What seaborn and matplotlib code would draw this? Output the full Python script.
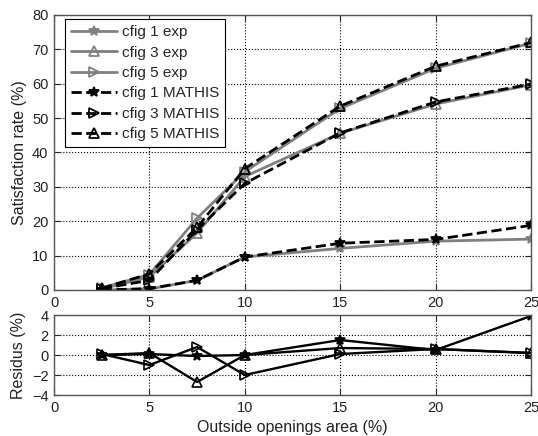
import matplotlib
matplotlib.use('Agg')
import matplotlib.pyplot as plt
import seaborn as sns

sns.set_style('ticks')
plt.rcParams['font.family'] = ['Liberation Sans', 'DejaVu Sans']

# opening area (%)
area = [2.5, 5, 7.5, 10, 15, 20, 25]

# satisfaction rate (%)
exp1 = [0.0, 0.3, 2.8, 9.6, 12.1, 14.2, 14.8]
exp3 = [0.3, 3.8, 16.6, 33.0, 45.6, 54.1, 59.7]
exp5 = [0.6, 4.5, 20.9, 34.4, 52.8, 64.5, 71.8]
mathis1 = [0.0, 0.4, 2.8, 9.6, 13.6, 14.7, 18.8]
mathis3 = [0.4, 2.8, 17.5, 31.0, 45.7, 54.7, 59.9]
mathis5 = [0.5, 4.7, 18.2, 35.3, 53.5, 65.1, 72.0]

# residus (%)
res1 = [0.0, 0.1, -0.1, 0.0, 1.5, 0.5, 3.9]
res3 = [0.1, -1.0, 0.8, -2.0, 0.1, 0.6, 0.2]
res5 = [0.0, 0.2, -2.7, 0.0, 0.7, 0.6, 0.2]

gray = '#808080'

fig = plt.figure(figsize=(5.38, 4.36), dpi=100)
ax1 = fig.add_axes([0.1004, 0.3349, 0.8866, 0.6307])
ax2 = fig.add_axes([0.1004, 0.094, 0.8866, 0.1835])

exp_series = [(exp1, '*', 'cfig 1 exp'), (exp3, '^', 'cfig 3 exp'), (exp5, '>', 'cfig 5 exp')]
mathis_series = [(mathis1, '*', 'cfig 1 MATHIS'), (mathis3, '>', 'cfig 3 MATHIS'), (mathis5, '^', 'cfig 5 MATHIS')]

for vals, mk, lab in exp_series:
    fill = 'full' if mk == '*' else 'none'
    sns.lineplot(x=area, y=vals, ax=ax1, color=gray, lw=2, marker=mk, markersize=7,
                 fillstyle=fill, markeredgecolor=gray, markeredgewidth=1.3, label=lab)

for vals, mk, lab in mathis_series:
    fill = 'full' if mk == '*' else 'none'
    sns.lineplot(x=area, y=vals, ax=ax1, color='black', lw=2, linestyle='--', marker=mk,
                 markersize=7, fillstyle=fill, markeredgecolor='black', markeredgewidth=1.3,
                 label=lab)

for vals, mk in [(res1, '*'), (res3, '>'), (res5, '^')]:
    fill = 'full' if mk == '*' else 'none'
    sns.lineplot(x=area, y=vals, ax=ax2, color='black', lw=1.7, marker=mk, markersize=7,
                 fillstyle=fill, markeredgecolor='black', markeredgewidth=1.2, legend=False)

for ax in (ax1, ax2):
    ax.set_xlim(0, 25)
    ax.set_xticks([0, 5, 10, 15, 20, 25])
    ax.grid(True, linestyle=':', color='black', lw=0.8)
    ax.tick_params(direction='in', top=True, right=True, labelsize=10.5, length=4, pad=4,
                   labelcolor='#222222')
    for s in ax.spines.values():
        s.set_color('#555555')
        s.set_linewidth(1)

ax1.set_ylim(0, 80)
ax1.set_yticks(range(0, 81, 10))
ax1.set_ylabel('Satisfaction rate (%)', fontsize=11.5, color='#222222')
ax2.set_ylim(-4, 4)
ax2.set_yticks([-4, -2, 0, 2, 4])
ax2.set_ylabel('Residus (%)', fontsize=11.5, color='#222222')
ax2.set_xlabel('Outside openings area (%)', fontsize=11.5, color='#222222')

leg = ax1.legend(loc='upper left', bbox_to_anchor=(0.023, 0.985), borderaxespad=0,
                 fontsize=11, fancybox=False, framealpha=1, edgecolor='black',
                 handlelength=3, labelspacing=0.42, handletextpad=0.3)
leg.get_frame().set_linewidth(0.8)

fig.savefig('out.png', dpi=100)
